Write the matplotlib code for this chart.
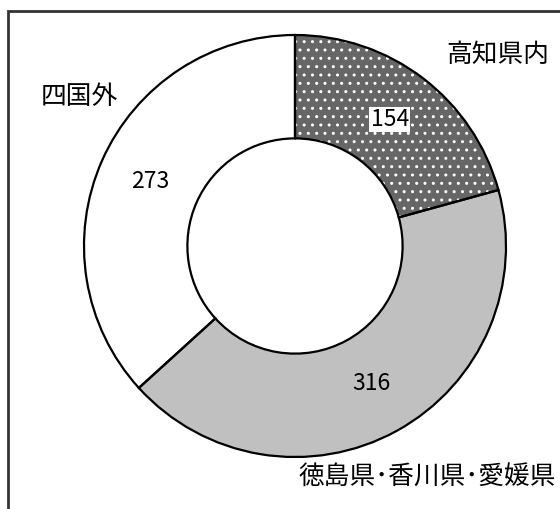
import matplotlib.pyplot as plt
from matplotlib.patches import Rectangle

plt.rcParams['font.family'] = ['Noto Sans CJK JP', 'DejaVu Sans']
plt.rcParams['hatch.linewidth'] = 1.0

# data
regions = ['高知県内', '徳島県･香川県･愛媛県', '四国外']
counts = [154, 316, 273]
colors = ['#666666', '#c0c0c0', '#ffffff']
hatches = ['..', '', '']

# where labels go (pie data coords, radius 1)
name_pos = [(0.962, 0.905), (0.626, -1.10), (-1.02, 0.706)]
num_pos = [(0.45, 0.60), (0.36, -0.65), (-0.687, 0.305)]

fig = plt.figure(figsize=(5.6, 5.09), dpi=100)
ax = fig.add_axes([0, 0, 1, 1])

# filled wedges with white dots hatch
w1, _ = ax.pie(counts, colors=colors, startangle=90, counterclock=False,
               radius=1, wedgeprops=dict(width=0.49, edgecolor='white', linewidth=0))
for w, h in zip(w1, hatches):
    w.set_hatch(h)
# outlines on top
w2, _ = ax.pie(counts, startangle=90, counterclock=False, radius=1,
               wedgeprops=dict(width=0.49, fill=False, edgecolor='black', linewidth=1.6))

for i in range(len(counts)):
    if i == 0:
        ax.text(num_pos[i][0], num_pos[i][1], str(counts[i]), ha='center', va='center', fontsize=16.5,
                bbox=dict(facecolor='white', edgecolor='none', pad=1.0))
    else:
        ax.text(num_pos[i][0], num_pos[i][1], str(counts[i]), ha='center', va='center', fontsize=16.5)
    ax.text(name_pos[i][0], name_pos[i][1], regions[i], ha='center', va='center', fontsize=18.5)

ax.set_aspect('auto')
ax.set_xlim(-295 / 211, (560 - 295) / 211)
ax.set_ylim(-(509 - 246) / 211, 246 / 211)
ax.axis('off')

# frame around the chart (right and bottom run off the picture)
fig.patches.append(Rectangle((8 / 560, -0.1), 1.2, 1 - 11 / 509 + 0.1, transform=fig.transFigure,
                             fill=False, edgecolor='#333333', linewidth=2))

fig.savefig('out.png', dpi=100)
